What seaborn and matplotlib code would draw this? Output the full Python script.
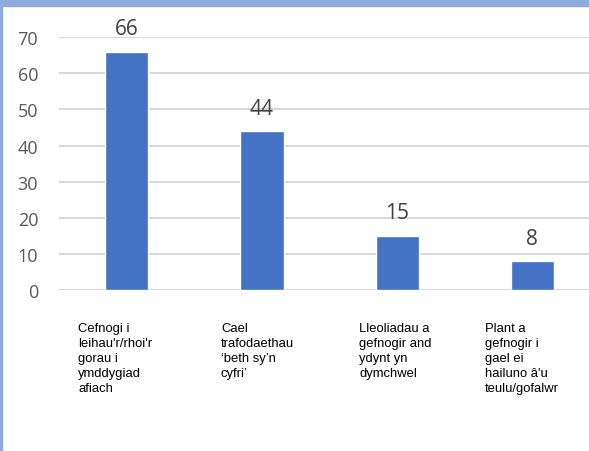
import matplotlib
matplotlib.use("Agg")
import matplotlib.pyplot as plt
import matplotlib.patches as mpatches
import seaborn as sns
import pandas as pd

# datos
categorias = [
    "Cefnogi i\nleihau'r/rhoi'r\ngorau i\nymddygiad\nafiach",
    "Cael\ntrafodaethau\n\u2018beth sy\u2019n\ncyfri\u2019",
    "Lleoliadau a\ngefnogir and\nydynt yn\ndymchwel",
    "Plant a\ngefnogir i\ngael ei\nhailuno \u00e2'u\nteulu/gofalwr",
]
valores = [66, 44, 15, 8]
yticks = [0, 10, 20, 30, 40, 50, 60, 70]

df = pd.DataFrame({"cat": categorias, "val": valores})

sns.set_style("white")
fig = plt.figure(figsize=(5.89, 4.52), dpi=100)
ax = fig.add_axes([0.1002, 0.356, 0.9185, 0.5597])

sns.barplot(data=df, x="cat", y="val", color="#4472C4", width=0.32,
            saturation=1, ax=ax)

ax.set_ylim(0, 70)
ax.set_xlim(-0.5, 3.5)
ax.set_yticks(yticks)
ax.yaxis.grid(True, color="#D9D9D9", linewidth=1.5)
ax.set_axisbelow(True)
for s in ax.spines.values():
    s.set_visible(False)
ax.set_xlabel("")
ax.set_ylabel("")
ax.tick_params(axis="y", length=0, pad=15, labelsize=13, labelcolor="#595959")
for t in ax.get_yticklabels():
    t.set_fontfamily("Open Sans")
ax.set_xticks(range(len(categorias)))
ax.set_xticklabels([])
ax.tick_params(axis="x", length=0)

# etiquetas de categoria (desplazamiento del borde izquierdo, en puntos)
desp = [-35, -29.5, -27.4, -34.2]
for i, c in enumerate(categorias):
    ax.annotate(c, xy=(i, 0), xytext=(desp[i], -23), textcoords="offset points",
                ha="left", va="top", multialignment="left", linespacing=1.32,
                fontsize=9.4, family="Liberation Sans", color="#000000",
                annotation_clip=False)

# valores sobre barras
for i, v in enumerate(valores):
    ax.annotate(str(v), xy=(i, v), xytext=(0, 9), textcoords="offset points",
                ha="center", va="bottom", fontsize=15, family="Open Sans",
                color="#404040", annotation_clip=False)

# borde azul
fig.patches.append(mpatches.Rectangle((0, 445 / 452), 1, 7 / 452,
                                      transform=fig.transFigure,
                                      color="#8FAADC", zorder=0))
fig.patches.append(mpatches.Rectangle((0, 0), 1.5 / 589, 1,
                                      transform=fig.transFigure,
                                      color="#8FAADC", zorder=0))

fig.savefig("out.png", dpi=100)
